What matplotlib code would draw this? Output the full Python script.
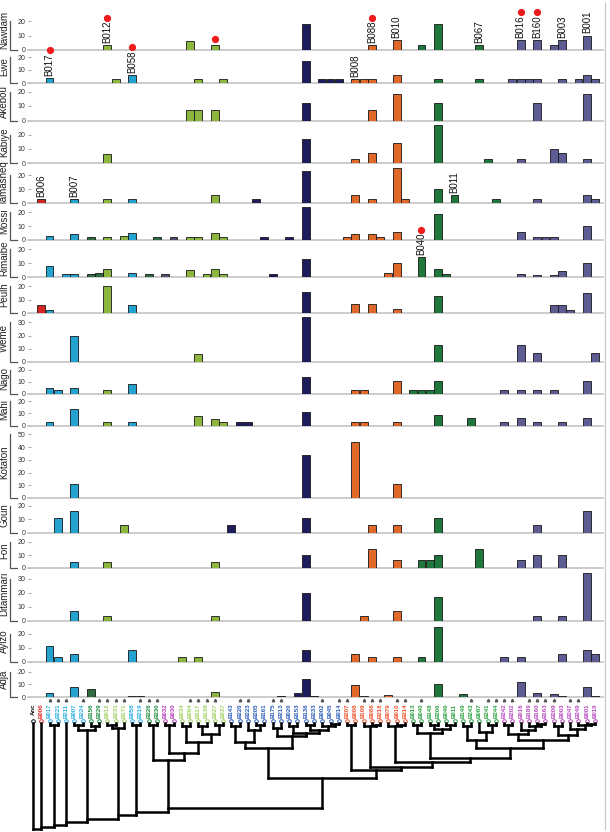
import matplotlib
matplotlib.use("Agg")
import matplotlib.pyplot as plt
from matplotlib.lines import Line2D
from matplotlib.transforms import offset_copy

plt.rcParams['font.family'] = ['Liberation Sans', 'DejaVu Sans']

# ---- leaves (haplotypes) ----
leaf_names = ["Anc", "B006", "B017", "B221", "B211", "B007", "B224", "B156", "B229",
              "B012", "B231", "B171", "B058", "B219", "B226", "B230", "B032", "B030",
              "B034", "B064", "B117", "B138", "B027", "B037",
              "B143", "B220", "B223", "B205", "B161", "B175", "B213", "B020", "B153",
              "B136", "B233", "B002", "B045", "B014",
              "B207", "B008", "B109", "B088", "B218", "B079", "B010", "B214",
              "B013", "B040", "B148", "B206", "B046", "B011", "B149", "B243", "B067",
              "B241", "B244",
              "B242", "B202", "B016", "B189", "B160", "B163", "B209", "B003", "B247",
              "B249", "B001", "B019"]
leaf_group = (["anc", "red"] + ["cyan"] * 5 + ["dkgreen"] * 2 + ["ltgreen"] * 3 +
              ["cyan"] * 2 + ["dkgreen"] * 2 + ["magenta"] * 2 + ["ltgreen"] * 6 +
              ["blue"] * 14 + ["orange"] * 8 + ["green"] * 11 + ["purple"] * 12)
starred = [2, 3, 4, 6, 8, 9, 10, 11, 13, 14, 15, 19, 20, 21, 22, 25, 26, 29, 30, 35, 37,
           38, 40, 41, 42, 44, 45, 47, 53, 55, 56, 57, 58, 60, 61, 62, 63, 65, 66]

bar_colors = {"anc": "#444444", "red": "#d42424", "cyan": "#25a3d0", "dkgreen": "#2f6a40",
              "ltgreen": "#8cb63e", "magenta": "#5a4a70", "blue": "#1e1d5c",
              "orange": "#e0692a", "green": "#1f773b", "purple": "#5d5d94"}
label_colors = {"anc": "#111111", "red": "#e02a2a", "cyan": "#27aee0", "dkgreen": "#1e8a3a",
                "ltgreen": "#9fd060", "magenta": "#b43cba", "blue": "#2a5cb8",
                "orange": "#f04e28", "green": "#2ca040", "purple": "#b848c0"}

# ---- haplotype counts per population (leaf index: count) ----
Nawdam = {9: 3, 19: 6, 22: 3, 33: 18, 41: 3, 44: 7, 47: 3, 49: 18, 54: 3, 59: 7, 61: 7,
          63: 3, 64: 7, 67: 10}
Ewe = {2: 4, 10: 3, 12: 6, 20: 3, 23: 3, 33: 17, 35: 3, 36: 3, 37: 3, 39: 3, 40: 3, 41: 3,
       44: 6, 49: 3, 54: 3, 58: 3, 59: 3, 60: 3, 61: 3, 64: 3, 66: 3, 67: 6, 68: 3}
Akebou = {19: 7, 20: 7, 22: 7, 33: 12, 41: 7, 44: 18, 49: 12, 61: 12, 67: 18}
Kabiye = {9: 6, 33: 17, 39: 3, 41: 7, 44: 14, 49: 27, 55: 3, 59: 3, 63: 10, 64: 7, 67: 3}
Tamasheq = {1: 3, 5: 3, 9: 3, 12: 3, 22: 6, 27: 3, 33: 23, 39: 6, 41: 3, 44: 25, 45: 3,
            49: 10, 51: 6, 56: 3, 61: 3, 67: 6, 68: 3}
Mossi = {2: 3, 5: 4, 7: 2, 9: 2, 11: 3, 12: 5, 15: 2, 17: 2, 19: 2, 20: 2, 22: 5, 23: 2,
         28: 2, 31: 2, 33: 24, 38: 2, 39: 4, 41: 4, 42: 2, 44: 6, 49: 19, 59: 6, 61: 2,
         62: 2, 63: 2, 67: 10}
Rimaibe = {2: 8, 4: 2, 5: 2, 7: 2, 8: 3, 9: 6, 12: 3, 14: 2, 16: 2, 19: 5, 21: 2, 22: 6,
           23: 2, 29: 2, 33: 13, 43: 3, 44: 10, 47: 14, 49: 6, 50: 2, 59: 2, 61: 1.5,
           63: 1.5, 64: 4, 67: 10}
Peulh = {1: 6, 2: 2.5, 9: 20, 12: 6, 33: 16, 39: 6.5, 41: 6.5, 44: 3, 49: 13, 63: 6, 64: 6,
         65: 2.5, 67: 15}
Weme = {5: 20, 20: 6, 33: 34, 49: 13, 59: 13, 61: 7, 68: 7}
Nago = {2: 5, 3: 3, 5: 5, 9: 3, 12: 8, 33: 14, 39: 3, 40: 3, 44: 11, 46: 3, 47: 3, 48: 3,
        49: 11, 57: 3, 59: 3, 61: 3, 63: 3, 67: 11}
Mahi = {2: 3, 5: 14, 9: 3, 12: 3, 20: 8, 22: 5.5, 23: 3, 25: 3, 26: 3, 33: 11.5, 39: 3,
        40: 3, 44: 3, 49: 9, 53: 6, 57: 3, 59: 6, 61: 3, 64: 3, 67: 6}
Kotafon = {5: 11, 33: 33.5, 39: 44, 44: 11}
Goun = {3: 11, 5: 16.5, 11: 6, 24: 6, 33: 11, 41: 6, 44: 6, 49: 11, 61: 6, 67: 16.5}
Fon = {5: 5, 9: 5, 22: 5, 33: 10, 41: 15, 44: 6, 47: 6, 48: 6, 49: 10, 54: 15, 59: 6,
       61: 10, 64: 10}
Ditammari = {5: 7, 9: 3, 22: 3, 33: 20, 40: 3, 44: 7, 49: 17, 61: 3, 64: 3, 67: 34}
Ayizo = {2: 11, 3: 3, 5: 5.5, 12: 8.5, 18: 3, 20: 3, 33: 8.5, 39: 5.5, 41: 3, 44: 3, 47: 3,
         49: 25, 57: 3, 59: 3, 64: 5.5, 67: 8.5, 68: 5.5}
Adja = {2: 3, 5: 8, 7: 6, 12: 1, 13: 1, 22: 4, 30: 1, 32: 3, 33: 14, 34: 1, 39: 9.5, 40: 1,
        43: 1.5, 49: 10.5, 52: 2, 59: 12, 61: 3.5, 63: 2, 64: 1, 67: 8, 68: 1}

# labelled haplotypes and red-dot marks
Nawdam_tags = {9: "B012", 41: "B088", 44: "B010", 54: "B067", 59: "B016", 61: "B160",
               64: "B003", 67: "B001"}
Nawdam_dots = [9, 22, 41, 59, 61]
Ewe_tags = {2: "B017", 12: "B058", 39: "B008"}
Ewe_dots = [2, 12]
Tamasheq_tags = {1: "B006", 5: "B007", 51: "B011"}
Rimaibe_tags = {47: "B040"}
Rimaibe_dots = [47]

populations = [("Nawdam", Nawdam, Nawdam_tags, Nawdam_dots),
               ("Ewe", Ewe, Ewe_tags, Ewe_dots),
               ("Akebou", Akebou, {}, []),
               ("Kabiye", Kabiye, {}, []),
               ("Tamasheq", Tamasheq, Tamasheq_tags, []),
               ("Mossi", Mossi, {}, []),
               ("Rimaibe", Rimaibe, Rimaibe_tags, Rimaibe_dots),
               ("Peulh", Peulh, {}, []),
               ("Weme", Weme, {}, []),
               ("Nago", Nago, {}, []),
               ("Mahi", Mahi, {}, []),
               ("Kotafon", Kotafon, {}, []),
               ("Goun", Goun, {}, []),
               ("Fon", Fon, {}, []),
               ("Ditammari", Ditammari, {}, []),
               ("Ayizo", Ayizo, {}, []),
               ("Adja", Adja, {}, [])]
tick_tops = [20, 20, 20, 20, 20, 20, 20, 20, 30, 20, 20, 50, 20, 20, 30, 20, 20]

# ---- tree (height, left, right); leaves are indices ----
c23 = (5, 2, 3)
c58 = (10, (5, 5, 6), (6, 7, 8))
c911 = (8, (5, 9, 10), 11)
c1213 = (5, 12, 13)
c1415 = (5, 14, 15)
c1617 = (5, 16, 17)
lg = (22, (6, 18, 19), (14, (6, 20, 21), (5, 22, 23)))
L = (40, c1415, (33, c1617, lg))
b1 = (22, (6, 24, 25), (10, 26, (5, 27, 28)))
b2 = (16, (8, 29, 30), (13, (6, 31, 32), (10, (5, 33, 34), (6, 35, (4, 36, 37)))))
blue = (28, b1, b2)
G1 = (13, (5, 46, 47), (9, (5, 48, 49), (5, 50, 51)))
G2 = (20, (6, 52, 53), (12, 54, (5, 55, 56)))
P = (20, (14, (5, 57, 58), (10, 59, (6, 60, (4, 61, 62)))),
     (15, (6, 63, 64), (9, 65, (5, 66, (4, 67, 68)))))
R = (50, (5, 38, 39), (47, (6, 40, (5, 41, 42)), (42, (6, 43, (5, 44, 45)), (38, G1, (28, G2, P)))))
M = (58, blue, R)
backbone_sides = [0, 1, c23, 4, c58, c911, c1213, L]
backbone_heights = [109, 107, 104.5, 102, 99, 95, 91.5, 87.5]

# ---- layout (pixels) ----
W, H = 610.0, 832.0
x_left, x_right = 28, 603
x0_px, dx_px = 33, 8.265
baselines = [49.5, 83, 120.5, 163, 203, 240, 277, 313, 362, 394, 426, 498, 532.5, 568,
             620.5, 661.5, 697]
ppu = [1.4, 1.3, 1.45, 1.42, 1.38, 1.38, 1.4, 1.33, 1.32, 1.2, 1.25, 1.27, 1.33, 1.3,
       1.39, 1.38, 1.27]
xlim = ((x_left - x0_px) / dx_px, (x_right - x0_px) / dx_px)

fig = plt.figure(figsize=(W / 100, H / 100), dpi=100)

top = 10
for k, (name, counts, tags, dots) in enumerate(populations):
    base = baselines[k]
    ax = fig.add_axes([x_left / W, 1 - base / H, (x_right - x_left) / W, (base - top) / H])
    ax.set_facecolor('none')
    ax.set_xlim(*xlim)
    ax.set_ylim(0, (base - top) / ppu[k])
    idx = list(counts.keys())
    vals = list(counts.values())
    ax.bar(idx, vals, width=0.95, color=[bar_colors[leaf_group[i]] for i in idx],
           edgecolor='#161616', linewidth=0.6, zorder=3)
    ax.set_xticks([])
    ax.set_yticks(list(range(0, tick_tops[k] + 1, 10)))
    ax.tick_params(axis='y', direction='in', length=2.5, width=0.6, color='#9a9a9a',
                   labelsize=5, pad=2, labelcolor='#333333')
    for s in ['left', 'top', 'right']:
        ax.spines[s].set_visible(False)
    ax.spines['bottom'].set_color('#c4c4c4')
    ax.spines['bottom'].set_linewidth(1.2)
    yt = ax.get_yaxis_transform()
    ax.plot([-0.031, -0.031, -0.020], [tick_tops[k], 0, 0], transform=yt, color='#555555',
            lw=0.9, clip_on=False)
    ax.text(-0.0415, 0.5, name, transform=ax.transAxes, rotation=90, ha='center',
            va='center', fontsize=7, color='#222222')
    for i, lab in tags.items():
        ax.annotate(lab, (i, counts[i]), xytext=(0, 1.5), textcoords='offset points',
                    rotation=90, ha='center', va='bottom', fontsize=7, color='#111111',
                    annotation_clip=False, zorder=5)
    for i in dots:
        off = 20 if i in tags else 4.5
        tr = offset_copy(ax.transData, fig=fig, x=0, y=off, units='points')
        ax.plot([i], [counts[i]], 'o', color='#ee1c1c', ms=4.2, transform=tr,
                clip_on=False, zorder=6)
    top = base

# ---- tree panel ----
axt = fig.add_axes([x_left / W, 0, (x_right - x_left) / W, (H - 697) / H])
axt.set_xlim(*xlim)
axt.set_ylim(112, -23)
axt.axis('off')

for i, nm in enumerate(leaf_names):
    col = label_colors[leaf_group[i]]
    axt.text(i, -16.5, nm, rotation=90, ha='center', va='top', fontsize=4.4,
             fontweight='bold', color=col)
    axt.plot([i], [0.6], 'o', ms=2.6, mfc='none', mec=col, mew=0.7)
axt.plot(starred, [-20.3] * len(starred), '^', ms=1.8, color='#555555', lw=0)

tree_kw = dict(color='black', lw=1.8, solid_capstyle='projecting')


def draw(node):
    if isinstance(node, int):
        return float(node), 2.5
    h, a, b = node
    xa, ha = draw(a)
    xb, hb = draw(b)
    axt.plot([xa, xa], [ha, h], **tree_kw)
    axt.plot([xb, xb], [hb, h], **tree_kw)
    axt.plot([xa, xb], [h, h], **tree_kw)
    return (xa + xb) / 2, h


side_xh = [draw(s) for s in backbone_sides]
tail_x, tail_h = draw(M)
for k, (xs, hs) in enumerate(side_xh):
    down_to = backbone_heights[k - 1] if k > 0 else backbone_heights[0]
    axt.plot([xs, xs], [hs, down_to], **tree_kw)
    nx = side_xh[k + 1][0] if k + 1 < len(side_xh) else tail_x
    axt.plot([xs, nx], [backbone_heights[k], backbone_heights[k]], **tree_kw)
axt.plot([tail_x, tail_x], [tail_h, backbone_heights[-1]], **tree_kw)

fig.add_artist(Line2D([605 / W, 605 / W], [0.004, 0.996], color='#c8c8c8', lw=0.9))

fig.savefig("out.png", dpi=100)
